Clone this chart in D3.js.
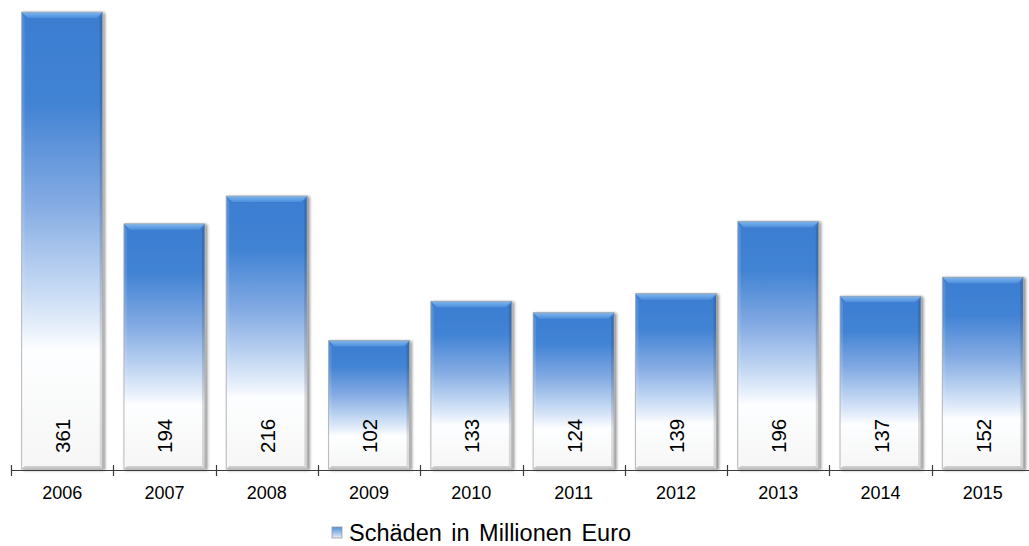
<!DOCTYPE html>
<html>
<head>
<meta charset="utf-8">
<script src="https://cdn.jsdelivr.net/npm/d3@7"></script>
<style>
  html, body { margin: 0; padding: 0; background: #ffffff; }
  svg { display: block; font-family: Arial, "Liberation Sans", sans-serif; }
</style>
</head>
<body>
<svg id="chart" width="1029" height="546"></svg>
<script>
// Schäden je Jahr (Millionen Euro)
const years = ["2006", "2007", "2008", "2009", "2010", "2011", "2012", "2013", "2014", "2015"];
const damages = [361, 194, 216, 102, 133, 124, 139, 196, 137, 152];
const seriesName = "Schäden in Millionen Euro";

const svg = d3.select("#chart");
const W = 1029, H = 546;
const margin = { left: 11, top: 12, baseline: 470 };
const step = 102.3;

const x = d3.scaleBand()
  .domain(years)
  .range([margin.left, margin.left + step * years.length])
  .padding(0);

const y = d3.scaleLinear()
  .domain([0, d3.max(damages)])
  .range([margin.baseline, margin.top]);

const barFrac = 0.792;
const barW = x.bandwidth() * barFrac;
const barOff = (x.bandwidth() - barW) / 2;

const defs = svg.append("defs");

// vertical blue-to-white fill of each bar
const grad = defs.append("linearGradient")
  .attr("id", "barFill").attr("x1", 0).attr("y1", 0).attr("x2", 0).attr("y2", 1);
[[0, "#3b7dd1"], [0.2, "#4283d4"], [0.42, "#84abe3"], [0.58, "#bcd3f1"], [0.68, "#e2ecfa"],
 [0.74, "#fdfeff"], [1, "#f6f6f6"]]
  .forEach(([o, c]) => grad.append("stop").attr("offset", o).attr("stop-color", c));

const topGrad = defs.append("linearGradient")
  .attr("id", "bevelTop").attr("x1", 0).attr("y1", 0).attr("x2", 0).attr("y2", 1);
topGrad.append("stop").attr("offset", 0).attr("stop-color", "#7fb6ee");
topGrad.append("stop").attr("offset", 1).attr("stop-color", "#4d8fdc");

const shadow = defs.append("filter").attr("id", "barShadow")
  .attr("x", "-10%").attr("y", "-5%").attr("width", "130%").attr("height", "115%");
shadow.append("feGaussianBlur").attr("in", "SourceAlpha").attr("stdDeviation", 1.6).attr("result", "b");
shadow.append("feOffset").attr("in", "b").attr("dx", 1.5).attr("dy", 1).attr("result", "o");
shadow.append("feComponentTransfer").attr("in", "o").attr("result", "s")
  .append("feFuncA").attr("type", "linear").attr("slope", 0.45);
const fm = shadow.append("feMerge");
fm.append("feMergeNode").attr("in", "s");
fm.append("feMergeNode").attr("in", "SourceGraphic");

// legend icon gradient
const legGrad = defs.append("linearGradient")
  .attr("id", "legFill").attr("x1", 0).attr("y1", 0).attr("x2", 0).attr("y2", 1);
legGrad.append("stop").attr("offset", 0).attr("stop-color", "#4d8fdc");
legGrad.append("stop").attr("offset", 1).attr("stop-color", "#e6eefa");

const data = years.map((yr, i) => ({ year: yr, value: damages[i] }));
const bevel = 6, side = 3;

const bars = svg.append("g").selectAll("g.bar").data(data).join("g")
  .attr("class", "bar")
  .attr("filter", "url(#barShadow)");

bars.each(function (d) {
  const g = d3.select(this);
  const x0 = x(d.year) + barOff, x1 = x0 + barW;
  const y0 = y(d.value), y1 = y(0) - 1;
  g.append("rect")
    .attr("x", x0).attr("y", y0).attr("width", barW).attr("height", y1 - y0)
    .attr("fill", "url(#barFill)");
  // bevelled edges
  g.append("polygon")
    .attr("points", [[x0, y0], [x1, y0], [x1 - bevel, y0 + bevel], [x0 + bevel, y0 + bevel]].join(" "))
    .attr("fill", "url(#bevelTop)");
  g.append("polygon")
    .attr("points", [[x0, y0], [x0 + side, y0 + bevel], [x0 + side, y1 - side], [x0, y1]].join(" "))
    .attr("fill", "#ffffff").attr("fill-opacity", 0.12);
  g.append("polygon")
    .attr("points", [[x1, y0], [x1 - side, y0 + bevel], [x1 - side, y1 - side], [x1, y1]].join(" "))
    .attr("fill", "#000000").attr("fill-opacity", 0.13);
  g.append("polygon")
    .attr("points", [[x0, y1], [x0 + side, y1 - side], [x1 - side, y1 - side], [x1, y1]].join(" "))
    .attr("fill", "#9a9a9a").attr("fill-opacity", 0.45);
  g.append("rect")
    .attr("x", x0).attr("y", y0).attr("width", barW).attr("height", y1 - y0)
    .attr("fill", "none").attr("stroke", "#a9a9a9").attr("stroke-width", 1)
    .attr("stroke-opacity", 0.8);
});

// value labels, rotated inside the bars
svg.append("g").selectAll("text").data(data).join("text")
  .attr("transform", d => `translate(${x(d.year) + x.bandwidth() / 2 + 8},${y(0) - 17}) rotate(-90)`)
  .attr("text-anchor", "start")
  .attr("font-size", 20.5)
  .attr("fill", "#000")
  .text(d => d.value);

// category axis with ticks between the years
const axisG = svg.append("g");
axisG.append("line")
  .attr("x1", x.range()[0]).attr("x2", W)
  .attr("y1", y(0) + 0.5).attr("y2", y(0) + 0.5)
  .attr("stroke", "#3a3a3a").attr("stroke-width", 1.2);
const boundaries = years.map(yr => x(yr));
axisG.selectAll("line.tick").data(boundaries).join("line")
  .attr("class", "tick")
  .attr("x1", d => Math.round(d) + 0.5).attr("x2", d => Math.round(d) + 0.5)
  .attr("y1", y(0) - 5).attr("y2", y(0) + 6)
  .attr("stroke", "#3a3a3a").attr("stroke-width", 1.2);
axisG.selectAll("text").data(years).join("text")
  .attr("x", d => x(d) + x.bandwidth() / 2)
  .attr("y", y(0) + 29)
  .attr("text-anchor", "middle")
  .attr("font-size", 18)
  .attr("fill", "#000")
  .text(d => d);

// legend
const leg = svg.append("g");
leg.append("rect")
  .attr("x", 332).attr("y", 527).attr("width", 10).attr("height", 11)
  .attr("fill", "url(#legFill)").attr("stroke", "#9a9a9a").attr("stroke-width", 0.8);
leg.append("text")
  .attr("x", 349).attr("y", 541)
  .attr("font-size", 23.5)
  .attr("word-spacing", 3)
  .attr("fill", "#000")
  .text(seriesName);
</script>
</body>
</html>
